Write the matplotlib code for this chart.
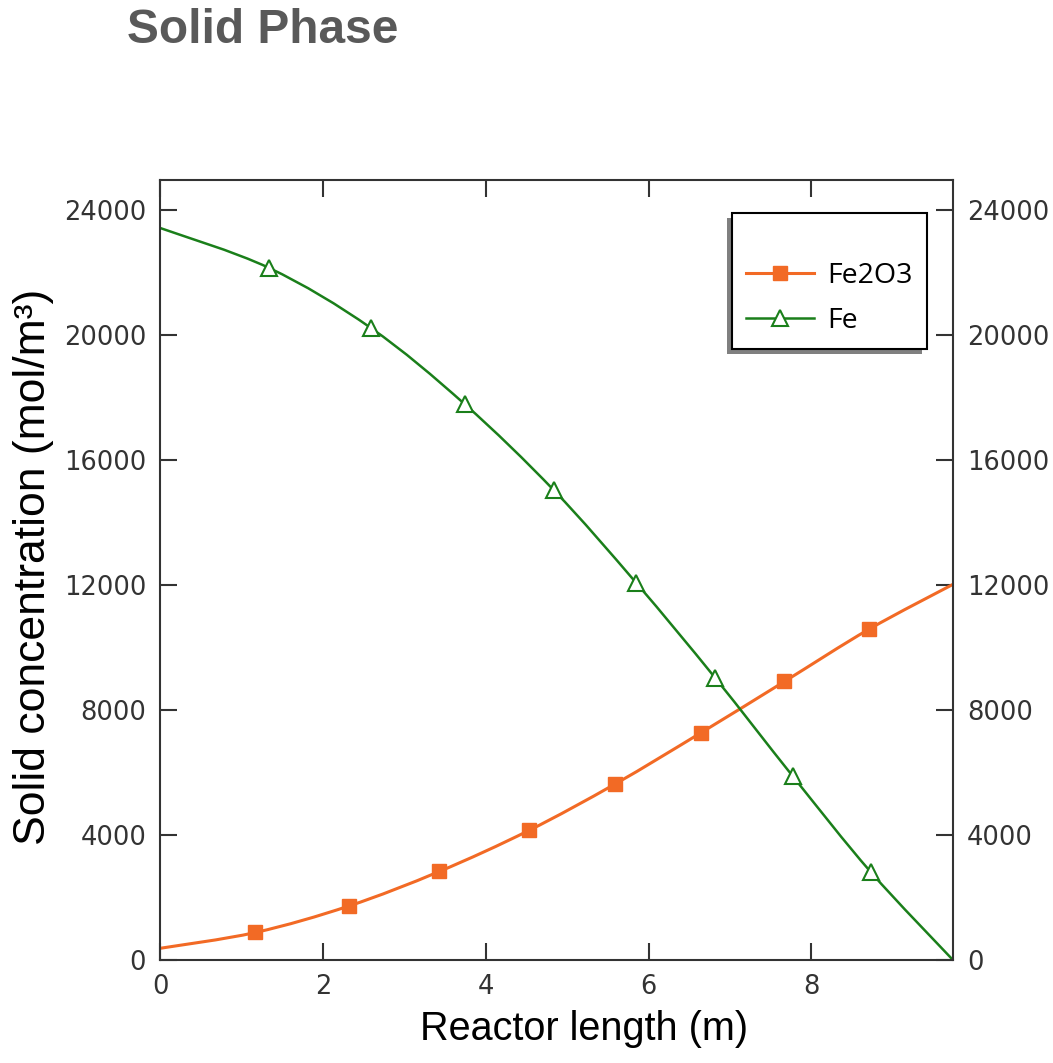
import matplotlib
matplotlib.use("Agg")
import numpy as np
import matplotlib.pyplot as plt
from matplotlib.patches import Rectangle, PathPatch
from matplotlib.path import Path
from matplotlib.lines import Line2D

# reactor position (m) and solid concentrations (mol/m3) along the bed
fe_x = [0, 1.34, 2.59, 3.74, 4.84, 5.85, 6.82, 7.77, 8.73, 9.74]
fe_y = [23424, 22144, 20224, 17792, 15024, 12064, 9024, 5888, 2816, 0]

fe2o3_x = [0, 1.17, 2.32, 3.43, 4.53, 5.59, 6.64, 7.67, 8.71, 9.74]
fe2o3_y = [374, 880, 1728, 2832, 4144, 5632, 7264, 8912, 10586, 12020]

x_ticks = [0, 2, 4, 6, 8]
y_ticks = [0, 4000, 8000, 12000, 16000, 20000, 24000]

orange = '#f26a25'
green = '#1a7f1a'


def smooth_path(x, y):
    # cubic bezier segments (catmull-rom tangents) through the points
    p = np.column_stack([x, y]).astype(float)
    ext = np.vstack([p[0], p, p[-1]])
    verts = [p[0]]
    codes = [Path.MOVETO]
    for i in range(len(p) - 1):
        p0, p1, p2, p3 = ext[i], ext[i + 1], ext[i + 2], ext[i + 3]
        verts += [p1 + (p2 - p0) / 6, p2 - (p3 - p1) / 6, p2]
        codes += [Path.CURVE4] * 3
    return Path(verts, codes)


fig = plt.figure(figsize=(10.53, 10.63), dpi=100)
ax = fig.add_axes([0.152, 0.0969, 0.753, 0.7338])

ax.add_patch(PathPatch(smooth_path(fe2o3_x, fe2o3_y), fill=False,
                       edgecolor=orange, lw=2.2, zorder=2))
ax.add_patch(PathPatch(smooth_path(fe_x, fe_y), fill=False,
                       edgecolor=green, lw=1.8, zorder=2))

sq = dict(color=orange, marker='s', markersize=10)
tri = dict(color=green, marker='^', markersize=11, markerfacecolor='white',
           markeredgecolor=green, markeredgewidth=1.5)
ax.plot(fe2o3_x[1:-1], fe2o3_y[1:-1], ls='none', zorder=3, **sq)
ax.plot(fe_x[1:-1], fe_y[1:-1], ls='none', zorder=3, **tri)

ax.set_xlim(0, 9.74)
ax.set_ylim(0, 24960)
ax.set_xticks(x_ticks)
ax.set_yticks(y_ticks)
ax.tick_params(direction='in', length=12, width=1.5, top=True, right=True,
               labelright=True, labelsize=18.5, colors='#333333', pad=10)
for tl in ax.get_xticklabels() + ax.get_yticklabels():
    tl.set_family('DejaVu Sans')
for s in ax.spines.values():
    s.set_color('#333333')
    s.set_linewidth(1.5)

ax.set_xlabel('Reactor length (m)', fontsize=28.5, family='Liberation Sans')
ax.xaxis.set_label_coords(0.535, -0.064)
ax.set_ylabel('Solid concentration (mol/m³)', fontsize=32, family='Liberation Sans')
ax.yaxis.set_label_coords(-0.134, 0.504)

handles = [Line2D([], [], lw=2.2, **sq), Line2D([], [], lw=1.8, **tri)]
leg = ax.legend(handles, ['Fe2O3', 'Fe'], loc='upper right',
                bbox_to_anchor=(0.967, 0.958), borderaxespad=0,
                fancybox=False, frameon=True, edgecolor='black', framealpha=1,
                prop={'family': 'Open Sans', 'size': 20.5}, handlelength=2.4,
                handletextpad=0.45, borderpad=0.5, labelspacing=0.6,
                title=' ', title_fontsize=13)
leg.get_frame().set_linewidth(1.5)
leg.set_zorder(6)

# drop shadow below and to the left of the legend box
fig.canvas.draw()
bb = leg.get_window_extent().transformed(ax.transAxes.inverted())
dx = 5 / 793
dy = 5 / 780
ax.add_patch(Rectangle((bb.x0 - dx, bb.y0 - dy), bb.width, bb.height,
                       transform=ax.transAxes, facecolor='#808080',
                       edgecolor='none', zorder=5, clip_on=False))

fig.text(127 / 1053, 1 - 43 / 1063, 'Solid Phase', fontsize=34.5, fontweight='bold',
         color='#595959', family='Liberation Sans', va='baseline', ha='left')

fig.savefig('out.png', dpi=100)
